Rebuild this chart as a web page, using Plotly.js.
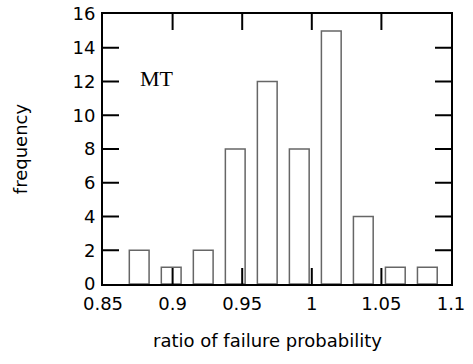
<!DOCTYPE html>
<html>
<head>
<meta charset="utf-8">
<script src="https://cdn.plot.ly/plotly-3.0.1.min.js"></script>
<style>html,body{margin:0;padding:0;background:#fff;}#chart{width:473px;height:364px;}</style>
</head>
<body>
<div id="chart"></div>
<script>
// Histogram of the ratio of failure probability
const binCenters = [0.876, 0.899, 0.922, 0.945, 0.968, 0.991, 1.014, 1.037, 1.060, 1.083];
const counts     = [2, 1, 2, 8, 12, 8, 15, 4, 1, 1];
const xTickVals  = [0.85, 0.9, 0.95, 1, 1.05, 1.1];
const xTickText  = ["0.85", "0.9", "0.95", "1", "1.05", "1.1"];
const yTickVals  = [0, 2, 4, 6, 8, 10, 12, 14, 16];
const yTickText  = ["0", "2", "4", "6", "8", "10", "12", "14", "16"];
const panelLabel = "MT";
const xTitle = "ratio of failure probability";
const yTitle = "frequency";

const sans = "DejaVu Sans, Arial, sans-serif";
const X0 = 0.85, X1 = 1.1, Y0 = 0, Y1 = 16;
const PLOT_W = 348, PLOT_H = 270, TICK_PX = 16;
const dyTick = TICK_PX * (Y1 - Y0) / PLOT_H;
const dxTick = TICK_PX * (X1 - X0) / PLOT_W;

const trace = {
  type: "bar",
  x: binCenters,
  y: counts,
  width: 0.0142,
  marker: { color: "#ffffff", line: { color: "#666666", width: 1.5 } },
  hoverinfo: "skip"
};

// Inside tick marks on all four sides, built from the tick arrays
const tx = [], ty = [];
xTickVals.slice(1, -1).forEach(v => {
  tx.push(v, v, null, v, v, null);
  ty.push(Y0, Y0 + dyTick, null, Y1, Y1 - dyTick, null);
});
yTickVals.slice(1, -1).forEach(v => {
  tx.push(X0, X0 + dxTick, null, X1, X1 - dxTick, null);
  ty.push(v, v, null, v, v, null);
});
const tickTrace = {
  type: "scatter", mode: "lines", x: tx, y: ty,
  line: { color: "#000000", width: 2 }, connectgaps: false,
  hoverinfo: "skip", showlegend: false, cliponaxis: false
};

const layout = {
  width: 473, height: 364,
  margin: { l: 103, r: 22, t: 14, b: 80 },
  paper_bgcolor: "#fff", plot_bgcolor: "#fff",
  showlegend: false,
  bargap: 0,
  xaxis: {
    range: [X0, X1],
    showline: true, linecolor: "#000", linewidth: 2, mirror: true,
    ticks: "", showgrid: false, zeroline: false,
    ticklabelstandoff: 2,
    tickfont: { family: sans, size: 18, color: "#000" },
    tickmode: "array", tickvals: xTickVals, ticktext: xTickText
  },
  yaxis: {
    range: [Y0, Y1],
    showline: true, linecolor: "#000", linewidth: 2, mirror: true,
    ticks: "", showgrid: false, zeroline: false,
    ticklabelstandoff: 2,
    tickfont: { family: sans, size: 18, color: "#000" },
    tickmode: "array", tickvals: yTickVals, ticktext: yTickText,
    title: { text: yTitle, font: { family: sans, size: 18, color: "#000" }, standoff: 40 }
  },
  annotations: [
    { text: panelLabel, xref: "x", yref: "y", x: 0.889, y: 12.2, showarrow: false,
      font: { family: "Liberation Serif, Times New Roman, serif", size: 22, color: "#000" } },
    { text: xTitle, xref: "paper", yref: "paper", x: 0.472, y: -0.21, yanchor: "middle", xanchor: "center",
      showarrow: false, font: { family: sans, size: 18, color: "#000" } }
  ]
};

Plotly.newPlot("chart", [trace, tickTrace], layout, { staticPlot: true, displayModeBar: false });
</script>
</body>
</html>
